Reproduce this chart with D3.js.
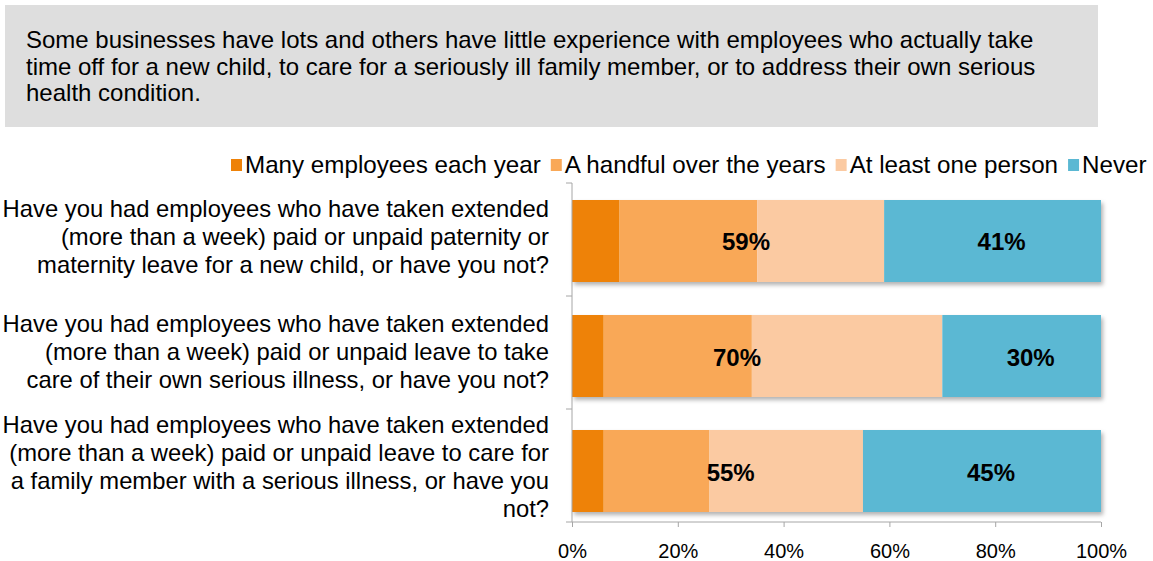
<!DOCTYPE html>
<html>
<head>
<meta charset="utf-8">
<script src="https://cdn.jsdelivr.net/npm/d3@7"></script>
<style>
  body { margin: 0; background: #fff; }
  text { font-family: Arial, "Liberation Sans", sans-serif; }
</style>
</head>
<body>
<div id="chart"></div>
<script>
(function(){

  var headerLines = [
    'Some businesses have lots and others have little experience with employees who actually take',
    'time off for a new child, to care for a seriously ill family member, or to address their own serious',
    'health condition.'
  ];

  var series = ['Many employees each year', 'A handful over the years', 'At least one person', 'Never'];
  var colors = ['#ee8208', '#f9a857', '#fbcaa2', '#5bb8d3'];

  var questions = [
    ['Have you had employees who have taken extended', '(more than a week) paid or unpaid paternity or', 'maternity leave for a new child, or have you not?'],
    ['Have you had employees who have taken extended', '(more than a week) paid or unpaid leave to take', 'care of their own serious illness, or have you not?'],
    ['Have you had employees who have taken extended', '(more than a week) paid or unpaid leave to care for', 'a family member with a serious illness, or have you', 'not?']
  ];

  var many     = [9, 6, 6];
  var handful  = [26, 28, 20];
  var atLeast  = [24, 36, 29];
  var never    = [41, 30, 45];
  var yesTotal = ['59%', '70%', '55%'];
  var noTotal  = ['41%', '30%', '45%'];

  var ticks = [0, 20, 40, 60, 80, 100];

  var width = 1153, height = 561;

  var svg = d3.select('#chart').append('svg')
    .attr('width', width)
    .attr('height', height);

  var defs = svg.append('defs');
  var f = defs.append('filter').attr('id', 'shadow')
    .attr('x', '-5%').attr('y', '-10%').attr('width', '110%').attr('height', '130%');
  f.append('feDropShadow')
    .attr('dx', 2).attr('dy', 3).attr('stdDeviation', 2)
    .attr('flood-color', '#000').attr('flood-opacity', 0.3);

  // header box
  svg.append('rect')
    .attr('x', 5).attr('y', 5)
    .attr('width', 1093).attr('height', 122)
    .attr('fill', '#dedede');

  svg.append('g').selectAll('text')
    .data(headerLines)
    .enter().append('text')
    .attr('x', 26)
    .attr('y', function(d, i){ return 48 + i * 26.5; })
    .attr('font-size', 24)
    .attr('fill', '#000')
    .text(function(d){ return d; });

  var margin = {top: 183, left: 572, right: 52, bottom: 39};
  var chartW = width - margin.left - margin.right,
      chartH = height - margin.top - margin.bottom;

  var chart = svg.append('g')
    .attr('transform', 'translate(' + margin.left + ',' + margin.top + ')');

  var x = d3.scaleLinear().domain([0, 100]).range([0, chartW]);
  // bars sit a little lower than the centre of each axis section
  var y = d3.scaleBand().domain(d3.range(questions.length)).range([17, chartH - 10]).paddingInner(0.287).paddingOuter(0);

  var rows = questions.map(function(q, i){
    return {i: i, values: [many[i], handful[i], atLeast[i], never[i]]};
  });

  var stack = d3.stack().keys([0, 1, 2, 3]);
  var stacked = stack(rows.map(function(r){ return r.values; }));

  var layers = chart.selectAll('.layer')
    .data(stacked)
    .enter().append('g')
    .attr('class', 'layer')
    .attr('fill', function(d, k){ return colors[k]; });

  // shadow layer behind all bars
  chart.insert('g', '.layer')
    .selectAll('rect')
    .data(rows)
    .enter().append('rect')
    .attr('x', 0)
    .attr('y', function(d){ return y(d.i); })
    .attr('width', x(100))
    .attr('height', y.bandwidth())
    .attr('fill', '#fff')
    .attr('filter', 'url(#shadow)');

  layers.selectAll('rect')
    .data(function(d){ return d; })
    .enter().append('rect')
    .attr('x', function(d){ return x(d[0]); })
    .attr('y', function(d, i){ return y(i); })
    .attr('width', function(d){ return x(d[1]) - x(d[0]); })
    .attr('height', y.bandwidth());

  // value labels
  chart.selectAll('.yes')
    .data(yesTotal)
    .enter().append('text')
    .attr('class', 'yes')
    .attr('x', function(d, i){ return x(parseFloat(d) / 2 + [3.4, -3.8, 2.5][i]); })
    .attr('y', function(d, i){ return y(i) + y.bandwidth() / 2 + 9.5; })
    .attr('text-anchor', 'middle')
    .attr('font-size', 24)
    .attr('font-weight', 'bold')
    .text(function(d){ return d; });

  chart.selectAll('.no')
    .data(noTotal)
    .enter().append('text')
    .attr('class', 'no')
    .attr('x', function(d, i){ return x(100 - parseFloat(d) / 2) + 9; })
    .attr('y', function(d, i){ return y(i) + y.bandwidth() / 2 + 9.5; })
    .attr('text-anchor', 'middle')
    .attr('font-size', 24)
    .attr('font-weight', 'bold')
    .text(function(d){ return d; });

  // axes
  var axisColor = '#a6a6a6';

  var xAxis = chart.append('g')
    .attr('transform', 'translate(0,' + chartH + ')')
    .call(d3.axisBottom(x).tickValues(ticks).tickSize(5).tickPadding(17).tickFormat(function(d){ return d + '%'; }));
  xAxis.select('.domain').attr('stroke', axisColor).attr('d', 'M0,0H' + chartW);
  xAxis.selectAll('.tick line').attr('stroke', axisColor);
  xAxis.selectAll('.tick text').attr('fill', '#000').attr('font-size', 20).attr('font-family', 'Arial, "Liberation Sans", sans-serif');

  var bounds = d3.range(questions.length + 1).map(function(i){ return i * chartH / questions.length; });
  var yAxis = chart.append('g');
  yAxis.append('line')
    .attr('x1', 0).attr('x2', 0).attr('y1', 0).attr('y2', chartH)
    .attr('stroke', axisColor);
  yAxis.selectAll('.yt')
    .data(bounds)
    .enter().append('line')
    .attr('class', 'yt')
    .attr('x1', -6).attr('x2', 0)
    .attr('y1', function(d){ return d; }).attr('y2', function(d){ return d; })
    .attr('stroke', axisColor);

  // category labels
  chart.selectAll('.cat')
    .data(questions)
    .enter().append('text')
    .attr('class', 'cat')
    .attr('text-anchor', 'end')
    .attr('font-size', 23.8)
    .attr('fill', '#000')
    .each(function(lines, i){
      var cy = y(i) + y.bandwidth() / 2;
      var lh = 28;
      var start = cy - (lines.length - 1) * lh / 2 + 4;
      d3.select(this).selectAll('tspan')
        .data(lines)
        .enter().append('tspan')
        .attr('x', -23)
        .attr('y', function(d, j){ return start + j * lh; })
        .text(function(d){ return d; });
    });

  // legend
  var legend = svg.append('g').attr('transform', 'translate(0,173)');
  var lx = 231;
  series.forEach(function(s, k){
    legend.append('rect')
      .attr('x', lx).attr('y', -14)
      .attr('width', 11).attr('height', 12)
      .attr('fill', colors[k]);
    var t = legend.append('text')
      .attr('x', lx + 14).attr('y', 0)
      .attr('font-size', 24.2)
      .attr('fill', '#000')
      .text(s);
    lx += 14 + t.node().getComputedTextLength() + 10;
  });

})();
</script>
</body>
</html>
